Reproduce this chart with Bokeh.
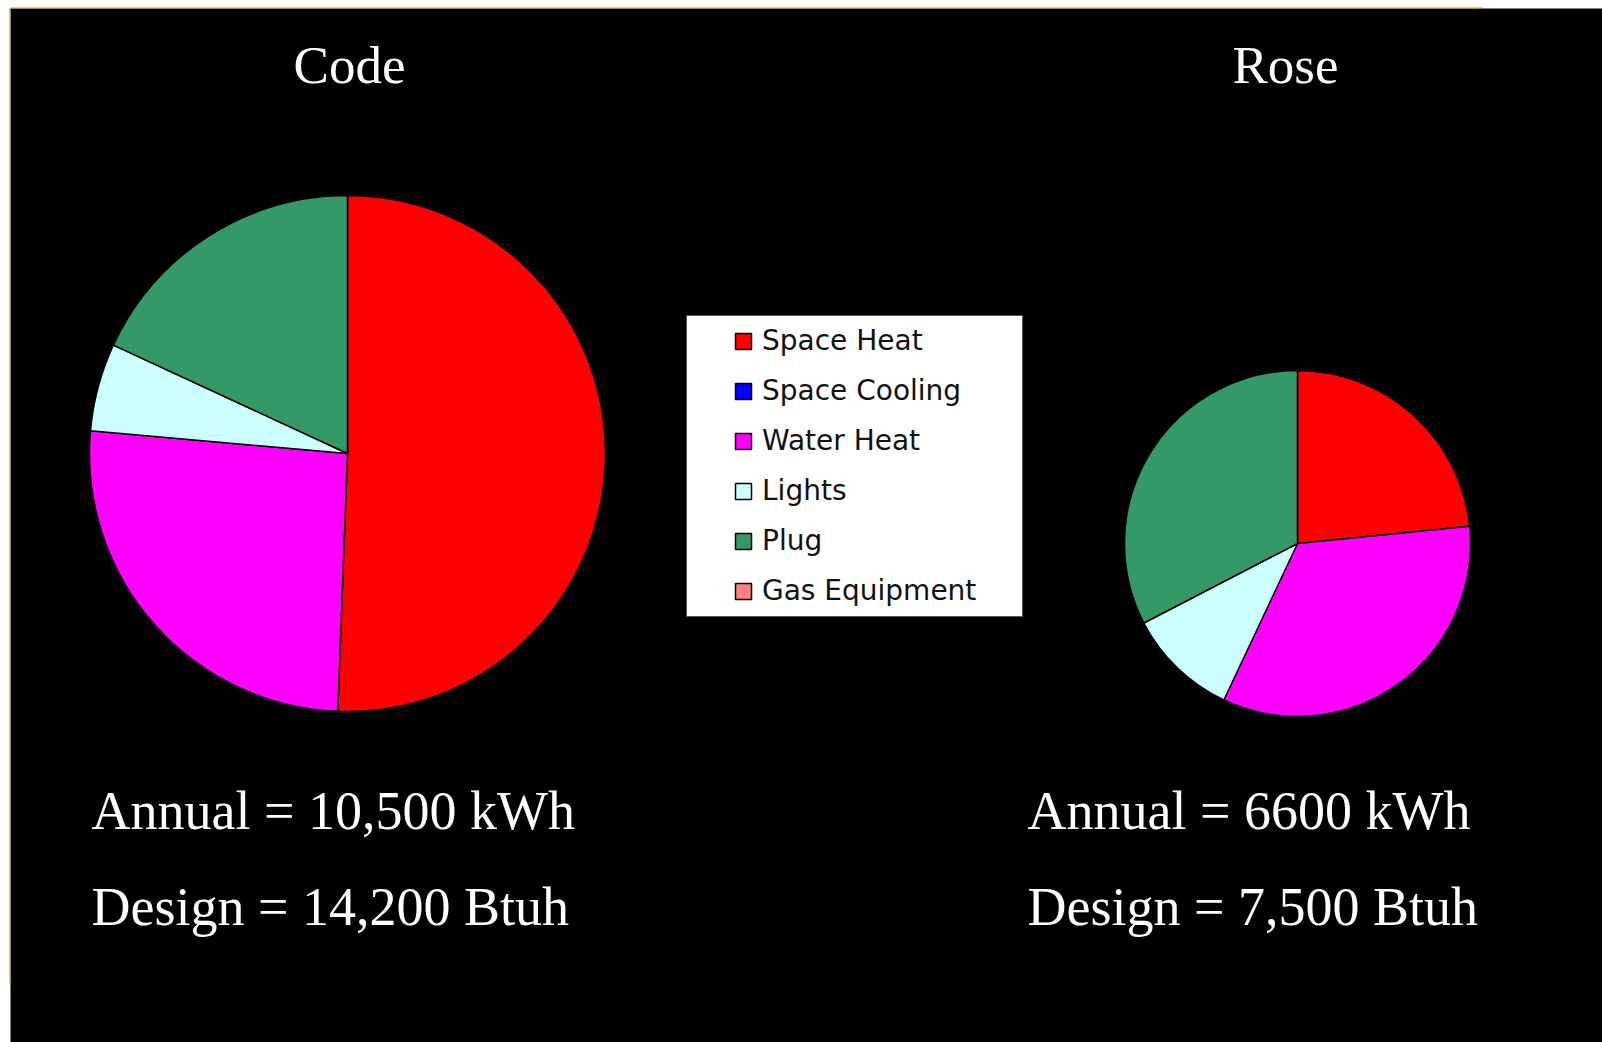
import numpy as np
from bokeh.plotting import figure
from bokeh.models import ColumnDataSource, Range1d, Legend, LegendItem
from bokeh.core.properties import value
from bokeh.embed import file_html
from bokeh.resources import INLINE

# ---------------- data ----------------
categories = ["Space Heat", "Space Cooling", "Water Heat", "Lights", "Plug", "Gas Equipment"]
colors = ["#FF0000", "#0000FF", "#FF00FF", "#CCFFFF", "#339966", "#FF8080"]
code_share = [50.6, 0.0, 25.8, 5.5, 18.1, 0.0]   # percent of annual use
rose_share = [23.4, 0.0, 33.6, 10.4, 32.6, 0.0]
titles = ["Code", "Rose"]
annual_labels = ["Annual = 10,500 kWh", "Annual = 6600 kWh"]
design_labels = ["Design = 14,200 Btuh", "Design = 7,500 Btuh"]

# ---------------- layout (screen pixels, y measured from top) ----------------
W, H = 1602, 1042
pie_cx = [347, 1297]
pie_cy = [453, 543]
pie_r = [258, 173]
title_x = [349, 1285]
title_y = 64
text_x = [91, 1027]
annual_y = 810
design_y = 906


def fy(y):
    return H - y


def pie_source(shares, cx, cy, r):
    vals = np.array(shares, dtype=float)
    frac = vals / vals.sum()
    cum = np.concatenate([[0.0], np.cumsum(frac)])
    start = np.pi / 2 - 2 * np.pi * cum[:-1]
    end = np.pi / 2 - 2 * np.pi * cum[1:]
    # empty categories get no wedge (radius 0) but keep their legend colour
    radius = np.where(vals > 0, r, 0.0)
    return ColumnDataSource(dict(
        category=categories, value=list(vals), color=colors,
        start=list(start), end=list(end),
        x=[cx] * len(vals), y=[fy(cy)] * len(vals), r=list(radius),
    ))


p = figure(width=W, height=H, x_range=Range1d(0, W), y_range=Range1d(0, H),
           output_backend="svg", toolbar_location=None, min_border=0)
p.axis.visible = False
p.grid.visible = False
p.outline_line_color = None
p.background_fill_color = "white"
p.border_fill_color = "white"

# black slide area and thin gold edge
p.quad(left=[10], right=[W], bottom=[0], top=[fy(8)], fill_color="black", line_color=None)
p.segment(x0=[10], y0=[fy(7.5)], x1=[1482], y1=[fy(7.5)], line_color="#C8961E", line_width=1)
p.segment(x0=[9.5], y0=[fy(7.5)], x1=[9.5], y1=[fy(983)], line_color="#C8961E", line_width=1)

renderers = []
for i, shares in enumerate([code_share, rose_share]):
    src = pie_source(shares, pie_cx[i], pie_cy[i], pie_r[i])
    r = p.wedge(x="x", y="y", radius="r", start_angle="start", end_angle="end",
                direction="clock", fill_color="color", line_color="black",
                line_width=1.5, source=src)
    renderers.append(r)

# titles and annotations
serif = value("Liberation Serif")
p.text(x=title_x, y=[fy(title_y)] * 2, text=titles, text_font=serif,
       text_font_size="53px", text_color="white", text_align="center",
       text_baseline="alphabetic")
p.text(x=text_x, y=[fy(annual_y)] * 2, text=annual_labels, text_font=serif,
       text_font_size="54px", text_color="white", text_align="left",
       text_baseline="alphabetic")
p.text(x=text_x, y=[fy(design_y)] * 2, text=design_labels, text_font=serif,
       text_font_size="54px", text_color="white", text_align="left",
       text_baseline="alphabetic")

# legend box
p.quad(left=[686], right=[1022], bottom=[fy(616)], top=[fy(315)],
       fill_color="white", line_color="#555555", line_width=1)

items = [LegendItem(label=c, renderers=[renderers[0]], index=i)
         for i, c in enumerate(categories)]
legend = Legend(items=items, location=(733, 435), orientation="vertical",
                glyph_width=20, glyph_height=20, label_standoff=9,
                label_text_font="DejaVu Sans", label_text_font_size="28px",
                label_text_color="#111111", spacing=17, padding=0, margin=0,
                background_fill_alpha=0, border_line_alpha=0)
p.add_layout(legend, "center")

html = file_html(p, INLINE)
open("out.html", "w").write(html)
